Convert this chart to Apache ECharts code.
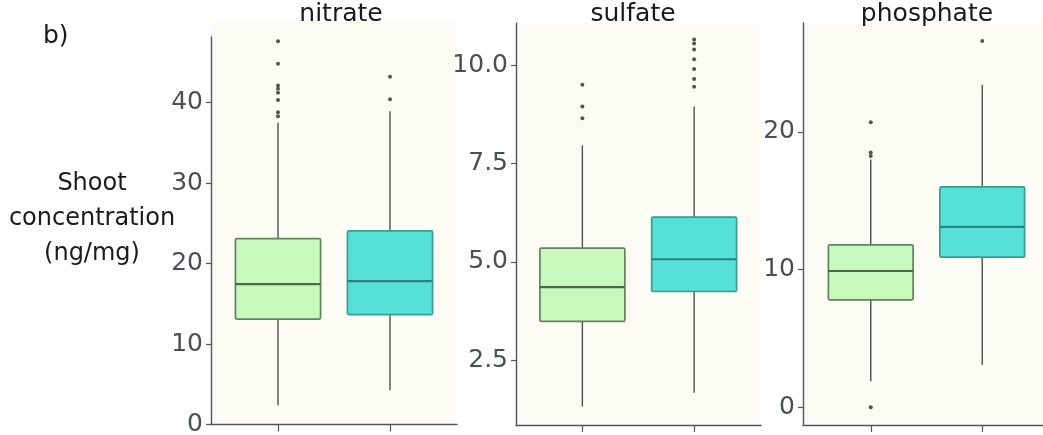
<!DOCTYPE html>
<html>
<head>
<meta charset="utf-8">
<script src="https://cdn.jsdelivr.net/npm/echarts@6/dist/echarts.min.js"></script>
<style>
  html, body { margin: 0; padding: 0; background: #ffffff; }
  #chart { width: 1043px; height: 435px; }
</style>
</head>
<body>
<div id="chart"></div>
<script>
// ---------------- data ----------------
const categories = ['group 1', 'group 2'];
const panelTitles = ['nitrate', 'sulfate', 'phosphate'];
const yAxisName = 'Shoot\nconcentration\n(ng/mg)';
const panelLetter = 'b)';

// [lower whisker, Q1, median, Q3, upper whisker] per category
const nitrateBoxes = [[2.4, 13.1, 17.45, 23.1, 37.5], [4.25, 13.65, 17.8, 24.05, 38.9]];
const sulfateBoxes = [[1.33, 3.49, 4.36, 5.35, 7.96], [1.68, 4.25, 5.07, 6.14, 8.95]];
const phosphateBoxes = [[1.9, 7.8, 9.9, 11.8, 18.0], [3.1, 10.9, 13.1, 16.0, 23.4]];

// outliers: [category index, value]
const nitrateOutliers = [[0, 47.6], [0, 44.8], [0, 42.1], [0, 41.7], [0, 41.2], [0, 40.3], [0, 38.8], [0, 38.3], [1, 43.2], [1, 40.4]];
const sulfateOutliers = [[0, 9.5], [0, 8.95], [0, 8.65], [1, 10.65], [1, 10.55], [1, 10.4], [1, 10.15], [1, 9.9], [1, 9.65], [1, 9.45]];
const phosphateOutliers = [[0, 20.7], [0, 18.5], [0, 18.25], [0, 0.0], [1, 26.6]];

// tick values
const nitrateTicks = [0, 10, 20, 30, 40];
const sulfateTicks = [2.5, 5.0, 7.5, 10.0];
const phosphateTicks = [0, 10, 20];

// ---------------- layout / style ----------------
const panels = [
  { title: panelTitles[0], boxes: nitrateBoxes, outliers: nitrateOutliers, ticks: nitrateTicks, decimals: 0,
    axisX: 211, right: 457, top: 22, bottom: 424.5, lineTop: 37, min: 0, max: 50, catL: 222, catR: 446, titleX: 341 },
  { title: panelTitles[1], boxes: sulfateBoxes, outliers: sulfateOutliers, ticks: sulfateTicks, decimals: 1,
    axisX: 516, right: 761, top: 23, bottom: 425, lineTop: 23, min: 0.86, max: 11.07, catL: 526.5, catR: 750, titleX: 633 },
  { title: panelTitles[2], boxes: phosphateBoxes, outliers: phosphateOutliers, ticks: phosphateTicks, decimals: 0,
    axisX: 803, right: 1049, top: 23, bottom: 425, lineTop: 23, min: -1.28, max: 27.9, catL: 815, catR: 1038, titleX: 927 }
];

const FONT = 'DejaVu Sans';
const axisColor = '#555555';
const tickLabelColor = '#4a4f55';
const panelBg = '#fcfbf4';
const boxFill = ['#c8f8bb', '#55e0d8'];
const boxBorder = ['#5f8460', '#3a9c94'];
const medianColor = ['#4a6b4b', '#2a857d'];
const whiskerColor = '#505050';

const grids = [], xAxes = [], yAxes = [], series = [], graphics = [];

panels.forEach((p, i) => {
  const h = p.bottom - p.top;
  // background / tick grid
  grids.push({ left: p.axisX, top: p.top, width: p.right - p.axisX, height: h,
    show: true, backgroundColor: panelBg, borderWidth: 0, containLabel: false, outerBoundsMode: 'none' });
  xAxes.push({ gridIndex: 3 * i, type: 'value', min: 0, max: 1, position: 'bottom',
    axisLine: { show: true, onZero: false, lineStyle: { color: axisColor, width: 1.4 } },
    axisTick: { show: false }, axisLabel: { show: false }, splitLine: { show: false } });
  yAxes.push({ gridIndex: 3 * i, type: 'value', min: p.min, max: p.max, position: 'left',
    axisLine: { show: false, onZero: false },
    axisTick: { show: true, length: 5, customValues: p.ticks, lineStyle: { color: axisColor, width: 1.2 } },
    axisLabel: { show: true, customValues: p.ticks, margin: 8, color: tickLabelColor, fontSize: 25, fontFamily: FONT,
      formatter: v => Number(v).toFixed(p.decimals) },
    splitLine: { show: false } });
  // y axis line grid
  grids.push({ left: p.axisX, top: p.lineTop, width: 10, height: p.bottom - p.lineTop,
    show: false, containLabel: false, outerBoundsMode: 'none' });
  xAxes.push({ gridIndex: 3 * i + 1, type: 'value', min: 0, max: 1, show: false });
  yAxes.push({ gridIndex: 3 * i + 1, type: 'value', min: 0, max: 1, position: 'left',
    axisLine: { show: true, onZero: false, lineStyle: { color: axisColor, width: 1.4 } },
    axisTick: { show: false }, axisLabel: { show: false }, splitLine: { show: false } });
  // box grid
  grids.push({ left: p.catL, top: p.top, width: p.catR - p.catL, height: h,
    show: false, containLabel: false, outerBoundsMode: 'none' });
  xAxes.push({ gridIndex: 3 * i + 2, type: 'category', data: categories, boundaryGap: true, position: 'bottom',
    axisLine: { show: false, onZero: false },
    axisTick: { show: true, alignWithLabel: true, length: 7, lineStyle: { color: axisColor, width: 1.2 } },
    axisLabel: { show: false }, splitLine: { show: false } });
  yAxes.push({ gridIndex: 3 * i + 2, type: 'value', min: p.min, max: p.max, show: false });

  series.push({
    type: 'custom', xAxisIndex: 3 * i + 2, yAxisIndex: 3 * i + 2,
    data: p.boxes.map((b, k) => [k].concat(b)),
    encode: { x: 0, y: [1, 2, 3, 4, 5] },
    renderItem: function (params, api) {
      const idx = api.value(0);
      const lo = api.coord([idx, api.value(1)]);
      const q1 = api.coord([idx, api.value(2)]);
      const md = api.coord([idx, api.value(3)]);
      const q3 = api.coord([idx, api.value(4)]);
      const hi = api.coord([idx, api.value(5)]);
      const band = api.size([1, 0])[0];
      const w = band * 0.76;
      const x = lo[0];
      return { type: 'group', children: [
        { type: 'line', shape: { x1: x, y1: hi[1], x2: x, y2: q3[1] }, style: { stroke: whiskerColor, lineWidth: 1.4 } },
        { type: 'line', shape: { x1: x, y1: q1[1], x2: x, y2: lo[1] }, style: { stroke: whiskerColor, lineWidth: 1.4 } },
        { type: 'rect', shape: { x: x - w / 2, y: q3[1], width: w, height: q1[1] - q3[1], r: 1.5 },
          style: { fill: boxFill[idx], stroke: boxBorder[idx], lineWidth: 1.7 } },
        { type: 'line', shape: { x1: x - w / 2, y1: md[1], x2: x + w / 2, y2: md[1] },
          style: { stroke: medianColor[idx], lineWidth: 2.2 } }
      ] };
    },
    silent: true, z: 2
  });
  series.push({
    type: 'scatter', xAxisIndex: 3 * i + 2, yAxisIndex: 3 * i + 2,
    data: p.outliers, symbol: 'circle', symbolSize: 4,
    itemStyle: { color: '#2a2a2a' }, silent: true, z: 3
  });

  graphics.push({ type: 'text', x: p.titleX, y: 14,
    style: { text: p.title, align: 'center', verticalAlign: 'middle', fontSize: 25, fontFamily: FONT, fill: '#1a1a1a' } });
});

graphics.push({ type: 'text', x: 43, y: 36,
  style: { text: panelLetter, align: 'left', verticalAlign: 'middle', fontSize: 25, fontFamily: FONT, fill: '#1a1a1a' } });
graphics.push({ type: 'text', x: 92, y: 219,
  style: { text: yAxisName, align: 'center', verticalAlign: 'middle', lineHeight: 35, fontSize: 24, fontFamily: FONT, fill: '#1a1a1a' } });

const chart = echarts.init(document.getElementById('chart'), null, { renderer: 'canvas' });
chart.setOption({
  animation: false,
  backgroundColor: '#ffffff',
  grid: grids,
  xAxis: xAxes,
  yAxis: yAxes,
  series: series,
  graphic: graphics
});
</script>
</body>
</html>
